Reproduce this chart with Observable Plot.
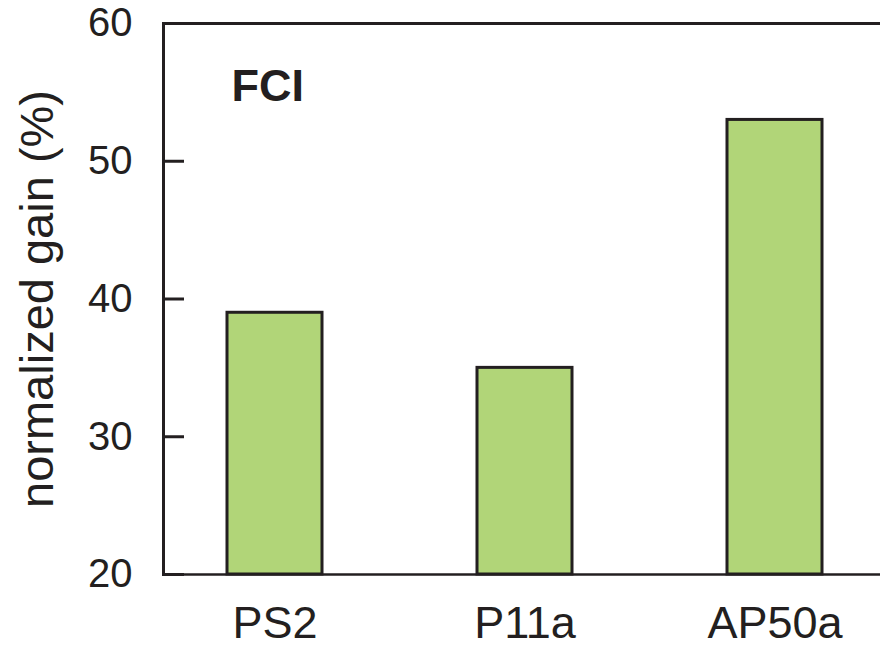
<!DOCTYPE html>
<html>
<head>
<meta charset="utf-8">
<script src="https://cdn.jsdelivr.net/npm/d3@7"></script>
<script src="https://cdn.jsdelivr.net/npm/@observablehq/plot@0.6"></script>
<style>
  html, body { margin: 0; padding: 0; background: #fff; }
  #chart svg { display: block; }
</style>
</head>
<body>
<div id="chart"></div>
<script>
const categories = ["PS2", "P11a", "AP50a"];
const gains = [39, 35, 53];
const yDomain = [20, 60];
const yTicks = [20, 30, 40, 50, 60];
const panelLabel = "FCI";
const yTitle = "normalized gain (%)";

const data = categories.map((c, i) => ({category: c, gain: gains[i], base: yDomain[0]}));
const ink = "#231f20";
const font = "'Liberation Sans', Arial, Helvetica, sans-serif";
const W = 880, ML = 163, TICK = 21;

const chart = Plot.plot({
  width: W,
  height: 645,
  marginLeft: ML,
  marginRight: 0,
  marginTop: 23,
  marginBottom: 71,
  style: {fontFamily: font, color: ink, background: "#fff"},
  x: {domain: categories, range: [164, 884], paddingInner: 0.62, paddingOuter: 0.25, align: 0.5},
  y: {domain: yDomain},
  marks: [
    Plot.barY(data, {x: "category", y1: "base", y2: "gain", fill: "#b1d578", stroke: ink, strokeWidth: 3}),
    Plot.frame({anchor: "left", stroke: ink, strokeWidth: 3}),
    Plot.frame({anchor: "top", stroke: ink, strokeWidth: 3}),
    Plot.frame({anchor: "bottom", stroke: ink, strokeWidth: 2.5}),
    Plot.axisY({ticks: yTicks, tickSize: 0, tickPadding: 31, fontSize: 40, label: null, fill: ink}),
    Plot.axisX({tickSize: 0, tickPadding: 32, fontSize: 45, label: null, fill: ink}),
    Plot.text([panelLabel], {frameAnchor: "top-left", textAnchor: "start", lineAnchor: "top", dx: 68, dy: 46, fontSize: 45, fontWeight: "bold", fill: ink}),
    Plot.text([yTitle], {frameAnchor: "left", rotate: -90, textAnchor: "middle", lineAnchor: "middle", dx: -126, fontSize: 47, fill: ink}),
    // short inward ticks on the left edge of the frame
    Plot.ruleY(yTicks, {stroke: ink, strokeWidth: 3, insetRight: W - ML - TICK})
  ]
});
document.getElementById("chart").appendChild(chart);
</script>
</body>
</html>
